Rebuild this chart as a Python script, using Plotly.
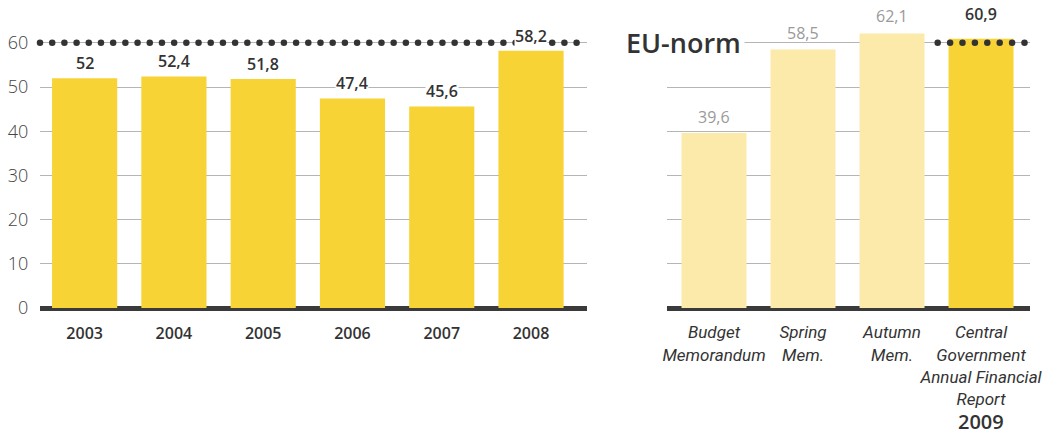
import numpy as np
import plotly.graph_objects as go

# ---- data ----
years = ["2003", "2004", "2005", "2006", "2007", "2008"]
debt_values = [52, 52.4, 51.8, 47.4, 45.6, 58.2]

estimates = ["Budget<br>Memorandum", "Spring<br>Mem.", "Autumn<br>Mem.",
             "Central<br>Government<br>Annual Financial<br>Report"]
estimate_values = [39.6, 58.5, 62.1, 60.9]
estimate_year = "2009"

eu_norm = 60
y_ticks = [0, 10, 20, 30, 40, 50, 60]

# ---- styles ----
W, H = 1043, 436
DARK = "#333333"
GREY_TXT = "#9a9a9a"
YELLOW = "#F8D335"
LIGHT_YELLOW = "#FCEAAA"
GRID = "#b5b5b5"
FONT = "Open Sans"

est_colors = [LIGHT_YELLOW, LIGHT_YELLOW, LIGHT_YELLOW, YELLOW]
est_label_colors = [GREY_TXT, GREY_TXT, GREY_TXT, DARK]
est_label_shift = [3, 3, 5, 12]

def fmt(v):
    return f"{v:g}".replace(".", ",")

y_dom = [(H - 308) / H, (H - 20.7) / H]
x1_dom = [40 / W, 587 / W]
x2_dom = [667 / W, 1030 / W]
x1_range = [-0.5, 5.627]
x2_range = [-0.528, 3.55]

fig = go.Figure()

fig.add_trace(go.Bar(x=list(range(len(years))), y=debt_values, marker_color=YELLOW,
                     marker_line_width=0, xaxis="x", yaxis="y", width=0.73,
                     hoverinfo="skip"))
fig.add_trace(go.Bar(x=list(range(len(estimates))), y=estimate_values, marker_color=est_colors,
                     marker_line_width=0, xaxis="x2", yaxis="y2", width=0.73,
                     hoverinfo="skip"))

# dotted EU-norm reference lines
dots_left = np.arange(-0.5, 5.53, 0.1366)
fig.add_trace(go.Scatter(x=dots_left, y=[eu_norm] * len(dots_left), mode="markers",
                         marker=dict(size=6.5, color=DARK), xaxis="x", yaxis="y",
                         cliponaxis=False, hoverinfo="skip"))
dots_right = np.arange(2.513, 3.5, 0.1393)
fig.add_trace(go.Scatter(x=dots_right, y=[eu_norm] * len(dots_right), mode="markers",
                         marker=dict(size=6.5, color=DARK), xaxis="x2", yaxis="y2",
                         cliponaxis=False, hoverinfo="skip"))

annotations = []
for i, v in enumerate(debt_values):
    annotations.append(dict(x=i, y=v, xref="x", yref="y", text=fmt(v), showarrow=False,
                            yanchor="bottom", yshift=3, bgcolor="white", borderpad=0,
                            font=dict(family=FONT, size=16, color=DARK, weight=600)))
for i, v in enumerate(estimate_values):
    annotations.append(dict(x=i, y=v, xref="x2", yref="y2", text=fmt(v), showarrow=False,
                            yanchor="bottom", yshift=est_label_shift[i],
                            font=dict(family=FONT, size=16, color=est_label_colors[i],
                                      weight=600 if i == 3 else 500)))
annotations.append(dict(x=745 / W, y=eu_norm, xref="paper", yref="y2", text="EU-norm",
                        showarrow=False, xanchor="right", yanchor="middle", bgcolor="white",
                        borderpad=3, font=dict(family=FONT, size=27, color=DARK, weight=600)))
annotations.append(dict(x=3, y=0, xref="x2", yref="paper", text=estimate_year,
                        showarrow=False, yanchor="bottom", borderpad=0,
                        font=dict(family=FONT, size=20, color=DARK, weight=600)))

fig.update_layout(
    width=W, height=H, margin=dict(l=0, r=0, t=0, b=0),
    paper_bgcolor="white", plot_bgcolor="white", showlegend=False,
    font=dict(family=FONT, color=DARK),
    annotations=annotations,
    xaxis=dict(domain=x1_dom, range=x1_range, tickvals=list(range(len(years))), ticktext=years,
               showgrid=False, zeroline=False, showline=False, ticks="outside", ticklen=11,
               tickcolor="rgba(0,0,0,0)", automargin=False, anchor="y", tickangle=0,
               tickfont=dict(family=FONT, size=16, color=DARK, weight=600)),
    yaxis=dict(domain=y_dom, range=[0, 65], tickvals=y_ticks, showgrid=True, gridcolor=GRID,
               gridwidth=1, zeroline=True, zerolinecolor="#3a3a3a", zerolinewidth=5,
               showline=False, ticks="outside", ticklen=7, tickcolor="rgba(0,0,0,0)",
               automargin=False, anchor="x",
               tickfont=dict(family=FONT, size=18, color="#444444", weight=300)),
    xaxis2=dict(domain=x2_dom, range=x2_range, tickvals=list(range(len(estimates))),
                ticktext=estimates, showgrid=False, zeroline=False, showline=False,
                ticks="outside", ticklen=9, tickcolor="rgba(0,0,0,0)", automargin=False,
                anchor="y2", tickangle=0,
                tickfont=dict(family="Roboto", size=17, color=DARK, style="italic")),
    yaxis2=dict(domain=y_dom, range=[0, 65], tickvals=y_ticks, showgrid=True, gridcolor=GRID,
                gridwidth=1, zeroline=True, zerolinecolor="#3a3a3a", zerolinewidth=5,
                showticklabels=False, showline=False, automargin=False, anchor="x2"),
)

fig.write_html("out.html")
